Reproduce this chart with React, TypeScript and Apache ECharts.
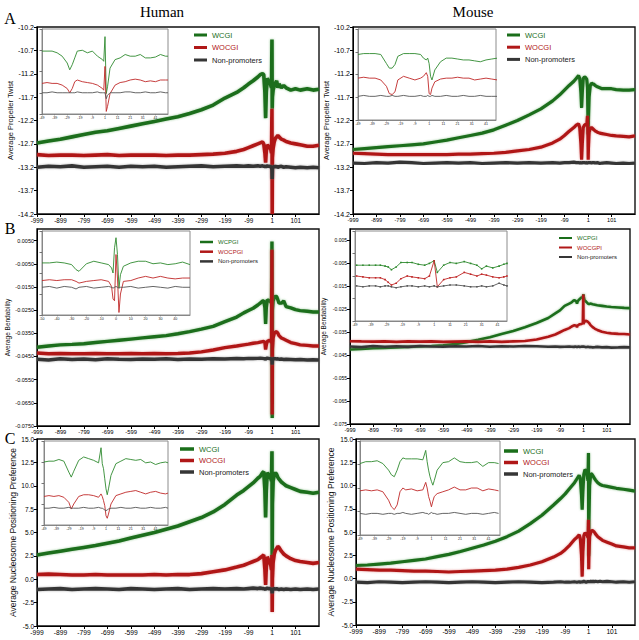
import React, { useEffect, useRef } from 'react';
import * as echarts from 'echarts';

// ---------- main-panel positions (bp relative to TSS) ----------
const POS = [
  -999, -950, -900, -850, -800, -750, -700, -650, -600, -550,
  -500, -450, -400, -350, -300, -250, -200, -150, -120, -100,
  -80, -60, -50, -40, -35, -30, -27, -24, -20, -15,
  -10, -5, -2, 0, 1, 2, 5, 10, 15, 20,
  25, 30, 40, 50, 60, 80, 100, 120, 150, 175,
  200,
];
const X_TICKS = [-999, -899, -799, -699, -599, -499, -399, -299, -199, -99, 1, 101];

// ---------- A: propeller twist ----------
const HA_WCGI = [
  -12.68, -12.64, -12.6, -12.55, -12.5, -12.45, -12.42, -12.37, -12.32, -12.27,
  -12.22, -12.17, -12.12, -12.05, -11.97, -11.87, -11.72, -11.6, -11.5, -11.42,
  -11.35, -11.27, -11.22, -11.2, -11.22, -11.6, -12.15, -11.6, -11.3, -11.35,
  -11.38, -11.45, -11.5, -10.47, -11.95, -11.7, -11.55, -11.45, -11.4, -11.35,
  -11.5, -11.42, -11.5, -11.45, -11.5, -11.55, -11.52, -11.55, -11.52, -11.55,
  -11.53,
];
const HA_WOCGI = [
  -12.93, -12.95, -12.94, -12.94, -12.95, -12.94, -12.93, -12.95, -12.94, -12.94,
  -12.94, -12.95, -12.94, -12.94, -12.93, -12.92, -12.9, -12.86, -12.82, -12.78,
  -12.74, -12.7, -12.68, -12.66, -12.7, -12.9, -13.1, -12.85, -12.72, -12.75,
  -12.78, -12.82, -12.9, -11.95, -14.2, -13.0, -12.8, -12.65, -12.58, -12.55,
  -12.52, -12.55, -12.6, -12.62, -12.65, -12.68, -12.7, -12.72, -12.75, -12.75,
  -12.73,
];
const HA_NP = [
  -13.2, -13.18, -13.19, -13.17, -13.2, -13.19, -13.18, -13.2, -13.18, -13.19,
  -13.18, -13.2, -13.19, -13.18, -13.17, -13.19, -13.18, -13.17, -13.18, -13.17,
  -13.18, -13.17, -13.18, -13.17, -13.18, -13.18, -13.2, -13.18, -13.17, -13.18,
  -13.18, -13.19, -13.2, -13.25, -13.45, -13.22, -13.2, -13.18, -13.19, -13.18,
  -13.2, -13.19, -13.18, -13.2, -13.19, -13.2, -13.21, -13.2, -13.21, -13.2,
  -13.21,
];
const MA_WCGI = [
  -12.82, -12.8, -12.78, -12.76, -12.74, -12.72, -12.7, -12.66, -12.62, -12.57,
  -12.52, -12.47, -12.4, -12.3, -12.2, -12.08, -11.95, -11.78, -11.65, -11.55,
  -11.45, -11.36, -11.3, -11.24, -11.3, -11.6, -11.93, -11.6, -11.3, -11.27,
  -11.28, -11.32, -11.5, -12.2, -12.5, -12.2, -11.7, -11.45, -11.4, -11.42,
  -11.42, -11.45, -11.48, -11.5, -11.52, -11.52, -11.52, -11.54, -11.55, -11.55,
  -11.54,
];
const MA_WOCGI = [
  -12.9, -12.91, -12.92, -12.93, -12.93, -12.93, -12.93, -12.93, -12.93, -12.92,
  -12.92, -12.91, -12.9, -12.88, -12.85, -12.82, -12.77, -12.68, -12.6, -12.52,
  -12.43, -12.35, -12.3, -12.27, -12.35, -12.7, -13.04, -12.7, -12.35, -12.3,
  -12.28, -12.3, -12.1, -12.6, -13.04, -12.8, -12.45, -12.37, -12.35, -12.37,
  -12.4, -12.42, -12.45, -12.47, -12.48, -12.5, -12.52, -12.53, -12.54, -12.55,
  -12.53,
];
const MA_NP = [
  -13.11, -13.12, -13.1, -13.11, -13.09, -13.1, -13.12, -13.11, -13.1, -13.11,
  -13.1, -13.12, -13.11, -13.1, -13.11, -13.1, -13.11, -13.1, -13.11, -13.1,
  -13.1, -13.09, -13.1, -13.1, -13.11, -13.1, -13.11, -13.1, -13.1, -13.1,
  -13.11, -13.1, -13.1, -13.12, -13.1, -13.11, -13.1, -13.1, -13.11, -13.1,
  -13.1, -13.11, -13.1, -13.12, -13.11, -13.1, -13.11, -13.12, -13.11, -13.12,
  -13.11,
];

// ---------- B: bendability ----------
const HB_WCPGI = [
  -0.041, -0.0405, -0.04, -0.0398, -0.0395, -0.039, -0.0385, -0.038, -0.0375, -0.037,
  -0.0365, -0.036, -0.0352, -0.0343, -0.0332, -0.032, -0.03, -0.028, -0.0262, -0.0252,
  -0.0242, -0.0228, -0.022, -0.021, -0.021, -0.024, -0.031, -0.024, -0.0205, -0.0208,
  -0.021, -0.0215, -0.022, 0.0046, -0.0715, -0.025, -0.021, -0.0195, -0.019, -0.0192,
  -0.0205, -0.022, -0.022, -0.021, -0.0235, -0.024, -0.0248, -0.0252, -0.0255, -0.0258,
  -0.0258,
];
const HB_WOCPGI = [
  -0.0435, -0.0438, -0.0437, -0.0438, -0.0438, -0.0437, -0.0438, -0.0438, -0.0437, -0.0438,
  -0.0437, -0.0438, -0.0437, -0.0435, -0.043, -0.0422, -0.0412, -0.0405, -0.04, -0.0397,
  -0.0393, -0.039, -0.0388, -0.0386, -0.0385, -0.039, -0.042, -0.04, -0.0385, -0.0383,
  -0.038, -0.0385, -0.039, 0.001, -0.07, -0.042, -0.037, -0.035, -0.0345, -0.0343,
  -0.035, -0.036, -0.037, -0.0375, -0.038, -0.039, -0.0395, -0.04, -0.0402, -0.0405,
  -0.0405,
];
const HB_NP = [
  -0.0462, -0.0465, -0.046, -0.0463, -0.0461, -0.0464, -0.046, -0.0462, -0.0463, -0.0461,
  -0.0462, -0.046, -0.0463, -0.0461, -0.0462, -0.046, -0.0461, -0.0459, -0.046, -0.0458,
  -0.0459, -0.0458, -0.0457, -0.0458, -0.0459, -0.046, -0.0462, -0.0459, -0.0457, -0.0458,
  -0.0459, -0.046, -0.0462, -0.047, -0.0485, -0.0465, -0.046, -0.0459, -0.046, -0.0461,
  -0.046, -0.0462, -0.0461, -0.0463, -0.0462, -0.0463, -0.0464, -0.0463, -0.0465, -0.0464,
  -0.0465,
];
const MB_WCPGI = [
  -0.0425, -0.0423, -0.042, -0.0418, -0.0416, -0.0414, -0.0412, -0.041, -0.0407, -0.0402,
  -0.0393, -0.0383, -0.0372, -0.0358, -0.0345, -0.0328, -0.031, -0.0288, -0.0268, -0.0255,
  -0.0235, -0.0225, -0.022, -0.021, -0.0212, -0.0215, -0.0225, -0.0215, -0.021, -0.0205,
  -0.02, -0.0198, -0.0195, -0.019, -0.0185, -0.0195, -0.021, -0.0215, -0.022, -0.0225,
  -0.0228, -0.0225, -0.0228, -0.023, -0.0232, -0.0235, -0.0238, -0.024, -0.0242, -0.0244,
  -0.0245,
];
const MB_WOCGPI = [
  -0.0389, -0.039, -0.0391, -0.039, -0.0392, -0.039, -0.0391, -0.039, -0.0392, -0.0391,
  -0.039, -0.0392, -0.039, -0.0392, -0.039, -0.0388, -0.0382, -0.037, -0.036, -0.035,
  -0.034, -0.0332, -0.0325, -0.032, -0.032, -0.0322, -0.0328, -0.032, -0.0318, -0.0315,
  -0.0315, -0.0312, -0.031, -0.0186, -0.0315, -0.031, -0.0305, -0.03, -0.0302, -0.0305,
  -0.031, -0.0318, -0.0328, -0.0335, -0.034, -0.0348, -0.0352, -0.0355, -0.0357, -0.0358,
  -0.036,
];
const MB_NP = [
  -0.0412, -0.0415, -0.041, -0.0413, -0.0411, -0.0414, -0.041, -0.0412, -0.0413, -0.0411,
  -0.0412, -0.041, -0.0413, -0.0411, -0.0412, -0.041, -0.0411, -0.0413, -0.0412, -0.0414,
  -0.0413, -0.0412, -0.0413, -0.0414, -0.0412, -0.0413, -0.0415, -0.0413, -0.0412, -0.0414,
  -0.0413, -0.0412, -0.0414, -0.0413, -0.0412, -0.0414, -0.0413, -0.0415, -0.0414, -0.0413,
  -0.0415, -0.0414, -0.0416, -0.0415, -0.0414, -0.0416, -0.0415, -0.0417, -0.0416, -0.0415,
  -0.0416,
];

// ---------- C: nucleosome positioning preference ----------
const HC_WCGI = [
  2.6, 2.8, 3.0, 3.2, 3.4, 3.6, 3.85, 4.1, 4.4, 4.7,
  5.0, 5.35, 5.7, 6.15, 6.6, 7.2, 8.0, 9.0, 9.5, 9.9,
  10.3, 10.8, 11.0, 11.4, 11.5, 9.5, 6.6, 9.5, 11.4, 11.2,
  10.9, 10.8, 10.5, 13.7, 2.1, 8.0, 10.5, 11.2, 11.4, 11.2,
  10.9, 10.7, 10.4, 10.2, 10.0, 9.8, 9.6, 9.4, 9.3, 9.2,
  9.3,
];
const HC_WOCGI = [
  0.5, 0.55, 0.5, 0.45, 0.45, 0.5, 0.45, 0.45, 0.45, 0.45,
  0.5, 0.45, 0.5, 0.5, 0.6, 0.8, 1.0, 1.3, 1.5, 1.7,
  1.9, 2.1, 2.3, 2.5, 2.6, 1.0, -0.6, 1.3, 2.4, 2.1,
  1.8, 1.5, 1.0, 2.6, -3.5, 0.0, 1.8, 2.7, 3.1, 3.3,
  3.5, 3.4, 3.0, 2.7, 2.5, 2.2, 2.0, 1.9, 1.8, 1.7,
  1.8,
];
const HC_NP = [
  -1.1, -1.05, -1.0, -1.1, -1.05, -1.0, -1.05, -1.1, -1.0, -1.05,
  -1.1, -1.05, -1.0, -1.1, -1.05, -1.0, -1.05, -1.0, -1.05, -1.0,
  -0.95, -1.0, -0.95, -1.0, -1.0, -1.05, -1.1, -1.0, -0.95, -1.0,
  -1.0, -1.05, -1.1, -1.2, -1.5, -1.1, -1.05, -1.0, -1.05, -1.0,
  -1.05, -1.1, -1.05, -1.1, -1.05, -1.1, -1.05, -1.1, -1.05, -1.1,
  -1.05,
];
const MC_WCGI = [
  1.4, 1.45, 1.55, 1.65, 1.8, 1.95, 2.1, 2.35, 2.6, 2.9,
  3.25, 3.6, 4.0, 4.5, 5.1, 5.9, 6.8, 7.9, 8.6, 9.1,
  9.7, 10.3, 10.7, 11.1, 10.8, 9.0, 7.4, 9.3, 11.2, 11.7,
  11.6, 11.0, 10.5, 13.5, 2.4, 6.0, 10.0, 11.3, 11.2, 11.0,
  10.8, 10.6, 10.3, 10.1, 10.0, 9.9, 9.8, 9.7, 9.6, 9.5,
  9.4,
];
const MC_WOCGI = [
  1.0, 0.95, 0.9, 0.9, 0.85, 0.8, 0.8, 0.75, 0.7, 0.75,
  0.8, 0.85, 0.9, 1.0, 1.2, 1.45, 1.8, 2.3, 2.7, 3.1,
  3.6, 4.2, 4.4, 4.7, 4.3, 2.5, 0.2, 2.8, 4.6, 4.9,
  4.8, 4.6, 4.4, 6.3, 1.0, 2.5, 4.5, 5.0, 5.2, 5.1,
  5.0, 4.8, 4.5, 4.3, 4.1, 3.9, 3.7, 3.5, 3.4, 3.3,
  3.3,
];
const MC_NP = [
  -0.4, -0.45, -0.35, -0.4, -0.45, -0.4, -0.35, -0.4, -0.45, -0.4,
  -0.35, -0.4, -0.45, -0.4, -0.35, -0.4, -0.45, -0.4, -0.35, -0.4,
  -0.4, -0.35, -0.4, -0.35, -0.4, -0.35, -0.4, -0.35, -0.3, -0.35,
  -0.4, -0.35, -0.3, -0.3, -0.35, -0.3, -0.35, -0.3, -0.35, -0.3,
  -0.35, -0.3, -0.35, -0.3, -0.35, -0.3, -0.35, -0.4, -0.35, -0.4,
  -0.35,
];

// ---------- insets (relative scale 0..100 of inset height) ----------
const IX_A = [-49, -45, -41, -37, -33, -29, -27, -25, -23, -21, -17, -13, -9, -5, -3, -1, 0, 1, 2, 3, 5, 9, 13, 17, 21, 25, 29, 33, 37, 41, 45, 49, 51];
const IHA_WCGI = [74, 74, 74, 72, 68, 60, 52, 58, 66, 74, 75, 72, 74, 68, 66, 64, 62, 91, 24, 32, 54, 64, 66, 70, 68, 68, 70, 66, 66, 67, 70, 68, 68];
const IHA_WOCGI = [36, 37, 36, 36, 34, 30, 25, 30, 38, 40, 38, 37, 36, 34, 32, 30, 28, 56, 3, 9, 24, 34, 37, 38, 40, 41, 40, 38, 39, 38, 40, 40, 40];
const IHA_NP = [25, 25, 26, 25, 25, 25, 25, 25, 25, 26, 25, 25, 25, 26, 25, 25, 25, 25, 18, 22, 25, 25, 25, 26, 26, 25, 25, 26, 25, 25, 26, 25, 25];
const IMA_WCGI = [72, 73, 73, 73, 72, 62, 57, 57, 61, 70, 73, 73, 73, 72, 68, 66, 68, 62, 48, 44, 55, 64, 68, 68, 67, 66, 66, 65, 64, 66, 67, 68, 68];
const IMA_WOCGI = [46, 47, 46, 46, 44, 37, 29, 28, 31, 44, 48, 46, 44, 46, 48, 52, 48, 29, 28, 35, 42, 45, 46, 46, 47, 46, 46, 44, 45, 46, 45, 44, 45];
const IMA_NP = [26, 27, 26, 26, 27, 26, 26, 27, 26, 26, 27, 26, 26, 27, 26, 26, 27, 26, 26, 27, 26, 26, 27, 26, 26, 27, 26, 26, 27, 26, 26, 26, 26];

const IX_HB = [-50, -45, -40, -35, -30, -27, -25, -20, -15, -10, -5, -3, -2, -1, 0, 1, 2, 3, 5, 10, 15, 20, 25, 30, 35, 40, 45, 50];
const IHB_WCPGI = [62, 62, 63, 62, 60, 54, 52, 61, 64, 62, 60, 56, 50, 80, 92, 72, 32, 48, 58, 62, 64, 64, 61, 62, 60, 61, 63, 60];
const IHB_WOCPGI = [41, 42, 41, 42, 42, 40, 38, 40, 41, 42, 40, 34, 19, 17, 72, 44, 3, 25, 40, 41, 44, 46, 44, 46, 44, 43, 44, 44];
const IHB_NP = [33, 34, 32, 34, 33, 31, 33, 34, 32, 33, 34, 33, 32, 33, 34, 33, 32, 33, 33, 34, 32, 33, 34, 33, 32, 34, 33, 33];

const IX_MB = [-48, -44, -40, -36, -33, -30, -28, -26, -23, -20, -16, -13, -9, -5, -2, 1, 3, 7, 11, 15, 20, 24, 28, 31, 34, 38, 42, 45, 47];
const IMB_WCPGI = [62, 62, 62, 62, 62, 61, 60, 57, 60, 65, 65, 65, 63, 62, 64, 67, 54, 62, 65, 64, 66, 64, 62, 58, 61, 59, 61, 63, 64];
const IMB_WOCGPI = [50, 49, 48, 48, 48, 46, 43, 40, 42, 47, 50, 49, 48, 47, 50, 67, 38, 46, 48, 49, 54, 52, 50, 52, 51, 49, 48, 49, 50];
const IMB_NP = [39, 38, 39, 39, 38, 39, 39, 38, 37, 38, 39, 39, 38, 39, 38, 39, 38, 39, 40, 40, 39, 38, 38, 39, 38, 39, 42, 40, 39];

const IX_HC = [-49, -45, -41, -37, -33, -29, -27, -25, -21, -17, -13, -9, -5, -3, -2, -1, 0, 1, 2, 3, 5, 9, 13, 17, 21, 25, 29, 33, 37, 41, 45, 49, 51];
const IHC_WCGI = [75, 76, 76, 78, 76, 63, 57, 64, 77, 81, 79, 77, 74, 92, 73, 67, 55, 43, 36, 43, 59, 73, 76, 79, 78, 77, 78, 74, 75, 72, 74, 75, 74];
const IHC_WOCGI = [34, 35, 34, 35, 33, 27, 19, 25, 34, 36, 36, 35, 33, 37, 34, 29, 23, 11, 8, 13, 25, 35, 37, 39, 40, 41, 39, 37, 39, 40, 38, 37, 38];
const IHC_NP = [20, 20, 21, 20, 20, 21, 20, 20, 20, 21, 20, 20, 21, 20, 20, 19, 18, 17, 18, 19, 20, 20, 21, 20, 20, 21, 20, 20, 21, 20, 20, 21, 20];

const IX_MC = [-49, -45, -41, -37, -33, -29, -27, -25, -23, -21, -19, -17, -13, -9, -5, -3, -2, -1, 0, 1, 2, 3, 5, 9, 13, 17, 21, 25, 29, 33, 37, 41, 45, 48];
const IMC_WCGI = [76, 78, 78, 79, 76, 69, 64, 62, 69, 78, 82, 81, 81, 81, 80, 90, 78, 69, 62, 57, 53, 58, 69, 77, 78, 82, 78, 77, 77, 78, 73, 77, 77, 76];
const IMC_WOCGI = [47, 48, 47, 48, 46, 37, 30, 27, 32, 46, 50, 48, 49, 47, 48, 56, 50, 41, 36, 30, 36, 41, 44, 46, 48, 51, 48, 48, 50, 50, 47, 49, 48, 47];
const IMC_NP = [23, 22, 23, 23, 22, 23, 23, 22, 23, 23, 24, 23, 22, 23, 24, 23, 23, 22, 23, 24, 23, 23, 22, 23, 23, 24, 23, 22, 23, 23, 22, 23, 24, 23];

const GREEN = '#1a6e1a';
const RED = '#b01818';
const GREY = '#363636';
const IG = '#2f8a2f';
const IR = '#c02828';
const IK = '#555555';
const HALO = ['rgba(60,150,60,0.55)', 'rgba(210,70,70,0.55)', 'rgba(110,110,110,0.55)'];
const FONT = 'Liberation Sans, Arial, sans-serif';

type Panel = {
  grid: { left: number; top: number; width: number; height: number };
  yMin: number; yMax: number; yInt: number; off: number; dec: number;
  yName: string; nameGap: number; nameSize: number; yLabelSize: number; xLabelSize: number;
  hideTop: boolean; lw: number;
  data: number[][]; names: string[];
  legend: { left: number; top: number; size: number; gap: number; iw: number; ih: number };
  inset: {
    grid: { left: number; top: number; width: number; height: number };
    xs: number[]; shift: number; xMin: number; xMax: number; data: number[][]; sym: boolean;
  };
};

const NAMES_CGI = ['WCGI', 'WOCGI', 'Non-promoters'];

const PANELS: Panel[] = [
  {
    grid: { left: 37, top: 27, width: 282, height: 187 },
    yMin: 0, yMax: 4, yInt: 0.5, off: 14.2, dec: 1,
    yName: 'Average Propeller Twist', nameGap: 20, nameSize: 7.5, yLabelSize: 7, xLabelSize: 6.3,
    hideTop: false, lw: 3.6,
    data: [HA_WCGI, HA_WOCGI, HA_NP], names: NAMES_CGI,
    legend: { left: 194, top: 31, size: 7.5, gap: 4.5, iw: 13, ih: 3 },
    inset: { grid: { left: 42, top: 29, width: 126, height: 85 }, xs: IX_A, shift: 49, xMin: 0, xMax: 100, data: [IHA_WCGI, IHA_WOCGI, IHA_NP], sym: false },
  },
  {
    grid: { left: 353, top: 27, width: 282, height: 187 },
    yMin: 0, yMax: 4, yInt: 0.5, off: 14.2, dec: 1,
    yName: 'Average Propeller Twist', nameGap: 22, nameSize: 7.5, yLabelSize: 7, xLabelSize: 5.6,
    hideTop: false, lw: 3.2,
    data: [MA_WCGI, MA_WOCGI, MA_NP], names: NAMES_CGI,
    legend: { left: 507, top: 31, size: 7.5, gap: 4.2, iw: 13, ih: 3 },
    inset: { grid: { left: 358, top: 29, width: 138, height: 91 }, xs: IX_A, shift: 49, xMin: 0, xMax: 97, data: [IMA_WCGI, IMA_WOCGI, IMA_NP], sym: false },
  },
  {
    grid: { left: 37, top: 229, width: 282, height: 197 },
    yMin: 0, yMax: 0.085, yInt: 0.01, off: 0.075, dec: 4,
    yName: 'Average Bendability', nameGap: 26, nameSize: 6.5, yLabelSize: 5.5, xLabelSize: 5.8,
    hideTop: true, lw: 3.4,
    data: [HB_WCPGI, HB_WOCPGI, HB_NP], names: ['WCPGI', 'WOCPGI', 'Non-promoters'],
    legend: { left: 200, top: 239, size: 6, gap: 3.7, iw: 13, ih: 2.5 },
    inset: { grid: { left: 42, top: 231, width: 148, height: 84 }, xs: IX_HB, shift: 0, xMin: -50, xMax: 50, data: [IHB_WCPGI, IHB_WOCPGI, IHB_NP], sym: false },
  },
  {
    grid: { left: 350, top: 229, width: 280, height: 195 },
    yMin: 0, yMax: 0.085, yInt: 0.01, off: 0.075, dec: 3,
    yName: 'Average Bendability', nameGap: 23, nameSize: 6.5, yLabelSize: 5, xLabelSize: 5.6,
    hideTop: true, lw: 2.6,
    data: [MB_WCPGI, MB_WOCGPI, MB_NP], names: ['WCPGI', 'WOCGPI', 'Non-promoters'],
    legend: { left: 559, top: 235, size: 6, gap: 3.5, iw: 13, ih: 2 },
    inset: { grid: { left: 355, top: 231, width: 152, height: 90 }, xs: IX_MB, shift: 49, xMin: 0, xMax: 96, data: [IMB_WCPGI, IMB_WOCGPI, IMB_NP], sym: true },
  },
  {
    grid: { left: 37, top: 439, width: 282, height: 187 },
    yMin: -5, yMax: 15, yInt: 2.5, off: 0, dec: 1,
    yName: 'Average Nucleosome Positioning Preference', nameGap: 18, nameSize: 8.5, yLabelSize: 6.5, xLabelSize: 6.7,
    hideTop: false, lw: 3.6,
    data: [HC_WCGI, HC_WOCGI, HC_NP], names: NAMES_CGI,
    legend: { left: 180, top: 445, size: 7.5, gap: 3.5, iw: 14, ih: 3.5 },
    inset: { grid: { left: 44, top: 441, width: 124, height: 84 }, xs: IX_HC, shift: 49, xMin: 0, xMax: 100, data: [IHC_WCGI, IHC_WOCGI, IHC_NP], sym: false },
  },
  {
    grid: { left: 356, top: 439, width: 279, height: 186 },
    yMin: -5, yMax: 15, yInt: 2.5, off: 0, dec: 1,
    yName: 'Average Nucleosome Positioning Preference', nameGap: 21, nameSize: 8.5, yLabelSize: 6.5, xLabelSize: 6.7,
    hideTop: false, lw: 3.2,
    data: [MC_WCGI, MC_WOCGI, MC_NP], names: NAMES_CGI,
    legend: { left: 504, top: 447, size: 7.5, gap: 3.5, iw: 14, ih: 3.5 },
    inset: { grid: { left: 360, top: 441, width: 140, height: 94 }, xs: IX_MC, shift: 49, xMin: 0, xMax: 98, data: [IMC_WCGI, IMC_WOCGI, IMC_NP], sym: false },
  },
];

const MAIN_COLORS = [GREEN, RED, GREY];
const INSET_COLORS = [IG, IR, IK];
const TEXT_COLORS = [GREEN, RED, '#222'];

function buildOption() {
  const grid: any[] = [];
  const xAxis: any[] = [];
  const yAxis: any[] = [];
  const series: any[] = [];
  const legend: any[] = [];
  const n = PANELS.length;

  PANELS.forEach((p, i) => {
    grid.push({ ...p.grid, show: true, borderColor: '#111', borderWidth: 1.4, containLabel: false });
    xAxis.push({
      type: 'value', gridIndex: i, min: 0, max: 1199, interval: 100,
      axisLine: { show: true, onZero: false, lineStyle: { color: '#000', width: 1 } },
      axisTick: { show: true, length: 3, lineStyle: { color: '#000' } },
      axisLabel: {
        fontSize: p.xLabelSize, color: '#000', margin: 3, fontFamily: FONT, showMaxLabel: false,
        formatter: (v: number) => {
          const t = Math.round(v) - 999;
          return X_TICKS.indexOf(t) >= 0 ? String(t) : '';
        },
      },
      splitLine: { show: false },
    });
    yAxis.push({
      type: 'value', gridIndex: i, min: p.yMin, max: p.yMax, interval: p.yInt,
      name: p.yName, nameLocation: 'middle', nameGap: p.nameGap,
      nameTextStyle: { fontSize: p.nameSize, color: '#111', fontFamily: FONT },
      axisLine: { show: true, onZero: false, lineStyle: { color: '#000', width: 1 } },
      axisTick: { show: true, length: 3, lineStyle: { color: '#000' } },
      axisLabel: {
        fontSize: p.yLabelSize, color: '#000', margin: 3, fontFamily: FONT,
        showMaxLabel: !p.hideTop,
        formatter: (v: number) => (v - p.off).toFixed(p.dec),
      },
      splitLine: { show: false },
    });
    p.data.forEach((arr, k) => {
      series.push({
        type: 'line', name: p.names[k], xAxisIndex: i, yAxisIndex: i,
        data: POS.map((x, j) => [x + 999, arr[j] + p.off]),
        symbol: 'none', showSymbol: false, silent: true,
        lineStyle: { color: MAIN_COLORS[k], width: p.lw, shadowBlur: 2, shadowColor: HALO[k] },
        itemStyle: { color: MAIN_COLORS[k] },
        z: 3,
      });
    });
    legend.push({
      data: p.names.map((nm, k) => ({ name: nm, textStyle: { color: TEXT_COLORS[k] } })),
      orient: 'vertical', left: p.legend.left, top: p.legend.top, padding: 0,
      itemGap: p.legend.gap, itemWidth: p.legend.iw, itemHeight: p.legend.ih,
      icon: 'rect', selectedMode: false,
      textStyle: { fontSize: p.legend.size, fontFamily: FONT },
    });
  });

  PANELS.forEach((p, i) => {
    const gi = n + i;
    const ins = p.inset;
    grid.push({ ...ins.grid, show: true, backgroundColor: '#fff', borderColor: '#8c8c8c', borderWidth: 1, z: 4 });
    xAxis.push({
      type: 'value', gridIndex: gi, min: ins.xMin, max: ins.xMax, interval: 10, z: 5,
      axisLine: { show: true, onZero: false, lineStyle: { color: '#777', width: 0.8 } },
      axisTick: { show: true, length: 1.5, lineStyle: { color: '#777', width: 0.6 } },
      axisLabel: {
        fontSize: 3.6, color: '#222', margin: 1.5, fontFamily: FONT, showMaxLabel: false,
        formatter: (v: number) => {
          const t = Math.round(v) - ins.shift;
          return ins.shift === 0 ? String(t) : (Math.round(v) <= 90 ? String(t) : '');
        },
      },
      splitLine: { show: false },
    });
    yAxis.push({
      type: 'value', gridIndex: gi, min: 0, max: 100, interval: 25, z: 5,
      axisLine: { show: true, onZero: false, lineStyle: { color: '#777', width: 0.8 } },
      axisTick: { show: true, length: 2.5, lineStyle: { color: '#555', width: 0.8 } },
      axisLabel: { show: false },
      splitLine: { show: false },
    });
    ins.data.forEach((arr, k) => {
      series.push({
        type: 'line', name: 'inset-' + i + '-' + k, xAxisIndex: gi, yAxisIndex: gi,
        data: ins.xs.map((x, j) => [x + ins.shift, arr[j]]),
        symbol: ins.sym ? 'rect' : 'none', symbolSize: 1.6, showSymbol: ins.sym, silent: true,
        lineStyle: { color: INSET_COLORS[k], width: 0.9 },
        itemStyle: { color: INSET_COLORS[k] },
        z: 6,
      });
    });
  });

  const serif = 'Liberation Serif, Times New Roman, serif';
  const graphic = [
    { type: 'text', x: 162, y: 12, style: { text: 'Human', font: '15px ' + serif, fill: '#000', align: 'center', verticalAlign: 'middle' } },
    { type: 'text', x: 473, y: 12, style: { text: 'Mouse', font: '15px ' + serif, fill: '#000', align: 'center', verticalAlign: 'middle' } },
    { type: 'text', x: 10, y: 18, style: { text: 'A', font: '16px ' + serif, fill: '#000', align: 'center', verticalAlign: 'middle' } },
    { type: 'text', x: 10, y: 228, style: { text: 'B', font: '16px ' + serif, fill: '#000', align: 'center', verticalAlign: 'middle' } },
    { type: 'text', x: 10, y: 438, style: { text: 'C', font: '16px ' + serif, fill: '#000', align: 'center', verticalAlign: 'middle' } },
  ];

  return { animation: false, backgroundColor: '#fff', grid, xAxis, yAxis, series, legend, graphic };
}

export default function App() {
  const ref = useRef<HTMLDivElement>(null);
  useEffect(() => {
    if (!ref.current) return;
    const chart = echarts.init(ref.current, undefined, { renderer: 'svg' });
    chart.setOption(buildOption() as any);
    return () => chart.dispose();
  }, []);
  return (
    <div
      ref={ref}
      style={{ position: 'absolute', left: 0, top: 0, width: 639, height: 640, background: '#fff' }}
    />
  );
}
